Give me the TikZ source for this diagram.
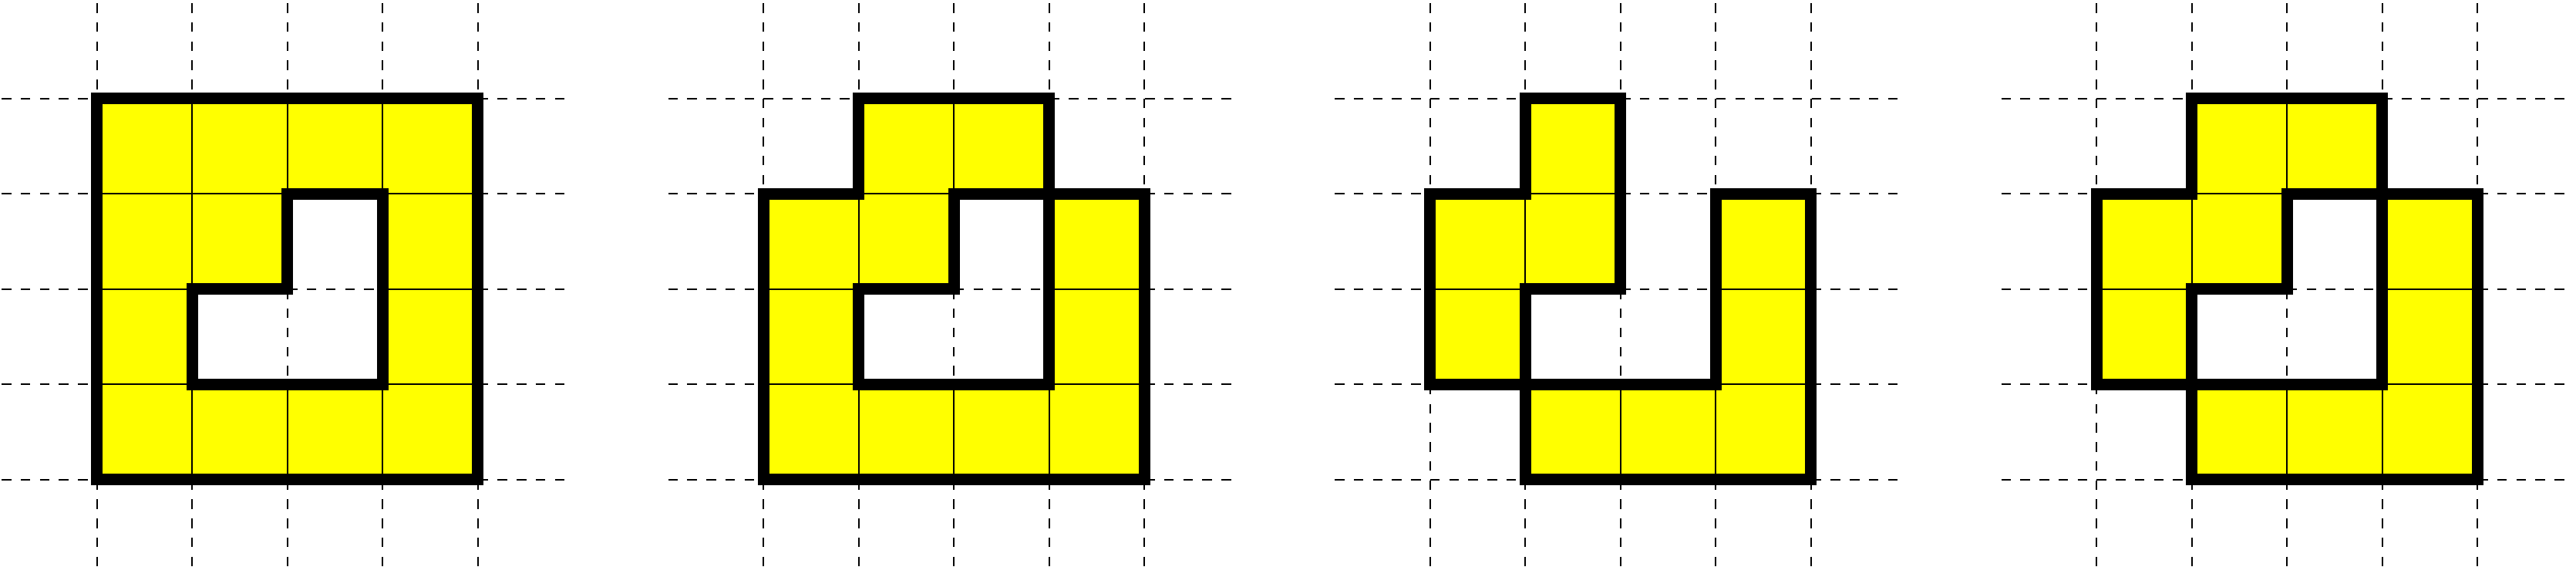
\documentclass[tikz,border=0pt]{standalone}
\usepackage{tikz}
\definecolor{cellBg}{RGB}{255,255,0}
\tikzset{
gridstyle/.style={dash pattern=on 2.85pt off 2.85pt, line width=0.4pt},
cellstyle/.style={fill=cellBg, draw=black, line width=0.4pt},
edgestyle/.style={line width=3.4pt, line join=miter}
}
\newcommand{\dashgrid}[1]{
  \foreach \k in {1,...,5}
  {
    \draw [gridstyle] (#1, \k) -- (#1 + 6, \k);
    \draw [gridstyle] (#1 + \k, 6) -- (#1 + \k, 0);
  }
}
\newcommand{\yellowcell}[3]{
  \draw [cellstyle] (#1 + 1 + #2, 4 - #3) rectangle ++(1, 1);
}
\begin{document}
\begin{tikzpicture}
\useasboundingbox (-0.018, -0.015) rectangle (27.035, 6.034);

\dashgrid{0}
\dashgrid{7}
\dashgrid{14}
\dashgrid{21}

% column/row, row counted from the top
\foreach \c/\r in {0/0,1/0,2/0,3/0,0/1,1/1,3/1,0/2,3/2,0/3,1/3,2/3,3/3}
  {\yellowcell{0}{\c}{\r}}
\foreach \c/\r in {1/0,2/0,0/1,1/1,3/1,0/2,3/2,0/3,1/3,2/3,3/3}
  {\yellowcell{7}{\c}{\r}}
\foreach \c/\r in {1/0,0/1,1/1,3/1,0/2,3/2,1/3,2/3,3/3}
  {\yellowcell{14}{\c}{\r}}
\foreach \c/\r in {1/0,2/0,0/1,1/1,3/1,0/2,3/2,1/3,2/3,3/3}
  {\yellowcell{21}{\c}{\r}}

\draw [edgestyle] (1, 5) -- (5, 5) -- (5, 1) -- (1, 1) -- cycle;
\draw [edgestyle] (3, 4) -- (4, 4) -- (4, 2) -- (2, 2) -- (2, 3) -- (3, 3) -- cycle;

\draw [edgestyle] (9, 5) -- (11, 5) -- (11, 4) -- (12, 4) -- (12, 1) -- (8, 1) -- (8, 4) -- (9, 4) -- cycle;
\draw [edgestyle] (10, 4) -- (11, 4) -- (11, 2) -- (9, 2) -- (9, 3) -- (10, 3) -- cycle;

\draw [edgestyle] (16, 5) -- (17, 5) -- (17, 3) -- (16, 3) -- (16, 2) -- (15, 2) -- (15, 4) -- (16, 4) -- cycle;
\draw [edgestyle] (18, 4) -- (19, 4) -- (19, 1) -- (16, 1) -- (16, 2) -- (18, 2) -- cycle;

\draw [edgestyle] (23, 5) -- (25, 5) -- (25, 4) -- (24, 4) -- (24, 3) -- (23, 3) -- (23, 2) -- (22, 2) -- (22, 4) -- (23, 4) -- cycle;
\draw [edgestyle] (25, 4) -- (26, 4) -- (26, 1) -- (23, 1) -- (23, 2) -- (25, 2) -- cycle;

\end{tikzpicture}
\end{document}
